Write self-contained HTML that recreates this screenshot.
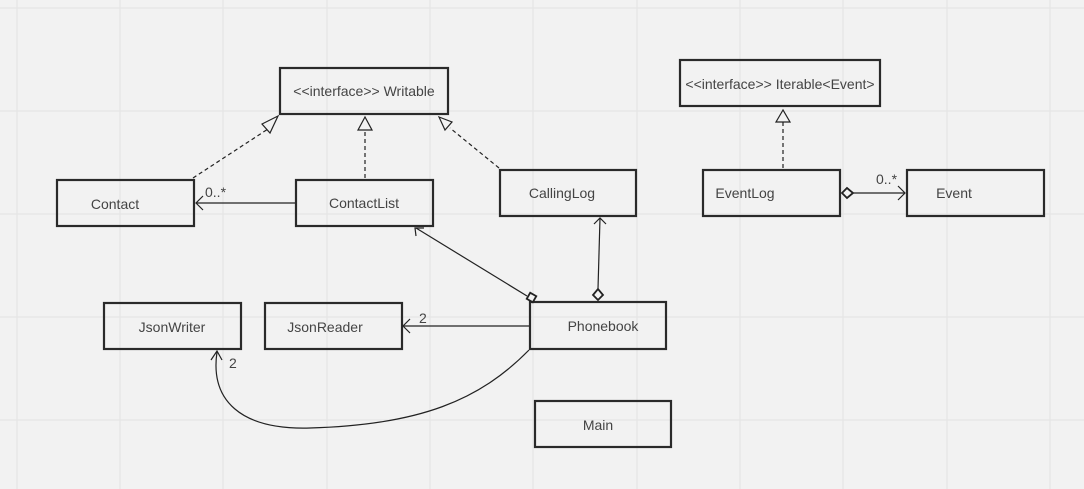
<!DOCTYPE html>
<html><head><meta charset="utf-8"><style>
html,body{margin:0;padding:0;background:#f2f2f2;}
svg{display:block}
text{font-family:"Liberation Sans",sans-serif;font-size:14px;fill:#444;}
</style></head><body>
<svg width="1084" height="489" viewBox="0 0 1084 489" xmlns="http://www.w3.org/2000/svg">
<rect width="1084" height="489" fill="#f2f2f2"/>
<g stroke="#e3e3e3" stroke-width="1">
<line x1="17" y1="0" x2="17" y2="489"/><line x1="120" y1="0" x2="120" y2="489"/><line x1="223" y1="0" x2="223" y2="489"/><line x1="327" y1="0" x2="327" y2="489"/><line x1="430" y1="0" x2="430" y2="489"/><line x1="533" y1="0" x2="533" y2="489"/><line x1="637" y1="0" x2="637" y2="489"/><line x1="740" y1="0" x2="740" y2="489"/><line x1="843" y1="0" x2="843" y2="489"/><line x1="947" y1="0" x2="947" y2="489"/><line x1="1050" y1="0" x2="1050" y2="489"/>
<line x1="0" y1="8" x2="1084" y2="8"/><line x1="0" y1="111" x2="1084" y2="111"/><line x1="0" y1="214" x2="1084" y2="214"/><line x1="0" y1="317" x2="1084" y2="317"/><line x1="0" y1="420" x2="1084" y2="420"/>
</g>
<g fill="none" stroke="#2a2a2a" stroke-width="2.2">
<rect x="280" y="68" width="168" height="46"/>
<rect x="57" y="180" width="137" height="46"/>
<rect x="296" y="180" width="137" height="46"/>
<rect x="500" y="170" width="136" height="46"/>
<rect x="680" y="60" width="200" height="46"/>
<rect x="703" y="170" width="137" height="46"/>
<rect x="907" y="170" width="137" height="46"/>
<rect x="104" y="303" width="137" height="46"/>
<rect x="265" y="303" width="137" height="46"/>
<rect x="530" y="302" width="136" height="47"/>
<rect x="535" y="401" width="136" height="46"/>
</g>
<g fill="none" stroke="#222" stroke-width="1.2">
<!-- realizations dashed -->
<line x1="193" y1="178" x2="268" y2="129" stroke-dasharray="4,3"/>
<polygon points="278,116 262,124 270,133" fill="#f2f2f2"/>
<line x1="365" y1="178" x2="365" y2="130" stroke-dasharray="4,3"/>
<polygon points="365,117 358,130 372,130" fill="#f2f2f2"/>
<line x1="499" y1="168" x2="450" y2="128" stroke-dasharray="4,3"/>
<polygon points="439,117 452,122 445,130" fill="#f2f2f2"/>
<line x1="783" y1="168" x2="783" y2="122" stroke-dasharray="4,3"/>
<polygon points="783,110 776,122 790,122" fill="#f2f2f2"/>
<!-- ContactList -> Contact -->
<line x1="295" y1="203" x2="196" y2="203"/>
<polyline points="203,196 196,203 203,210"/>
<!-- EventLog -> Event -->
<line x1="853" y1="193" x2="905" y2="193"/>
<polygon points="842,193 847,188 853,193 847,198" fill="#f2f2f2" stroke-width="1.8"/>
<polyline points="898,186 905,193 898,200"/>
<!-- Phonebook -> ContactList -->
<line x1="527" y1="296" x2="416" y2="228"/>
<polyline points="416,236 415,228 424,228"/>
<rect x="528" y="294" width="7" height="7" transform="rotate(30 531.5 297.5)" fill="#f2f2f2" stroke-width="1.8"/>
<!-- Phonebook -> CallingLog -->
<line x1="598" y1="289" x2="600" y2="218"/>
<polyline points="594,224 600,218 606,224"/>
<polygon points="598,300 593,295 598,289 603,295" fill="#f2f2f2" stroke-width="1.8"/>
<!-- Phonebook -> JsonReader -->
<line x1="529" y1="326" x2="404" y2="326"/>
<polyline points="410,319 403,326 410,333"/>
<!-- Phonebook -> JsonWriter -->
<path d="M529,350 C480,400 420,425 310,428 C240,430 210,400 217,352"/>
<polyline points="211,360 217,351 222,360"/>
</g>
<text x="364" y="96" text-anchor="middle">&lt;&lt;interface&gt;&gt; Writable</text>
<text x="780" y="89" text-anchor="middle">&lt;&lt;interface&gt;&gt; Iterable&lt;Event&gt;</text>
<text x="115" y="209" text-anchor="middle">Contact</text>
<text x="364" y="208" text-anchor="middle">ContactList</text>
<text x="562" y="198" text-anchor="middle">CallingLog</text>
<text x="745" y="198" text-anchor="middle">EventLog</text>
<text x="954" y="198" text-anchor="middle">Event</text>
<text x="172" y="332" text-anchor="middle">JsonWriter</text>
<text x="325" y="332" text-anchor="middle">JsonReader</text>
<text x="603" y="331" text-anchor="middle">Phonebook</text>
<text x="598" y="430" text-anchor="middle">Main</text>
<text x="205" y="197">0..*</text>
<text x="876" y="184">0..*</text>
<text x="419" y="323">2</text>
<text x="229" y="368">2</text>
</svg>
</body></html>
